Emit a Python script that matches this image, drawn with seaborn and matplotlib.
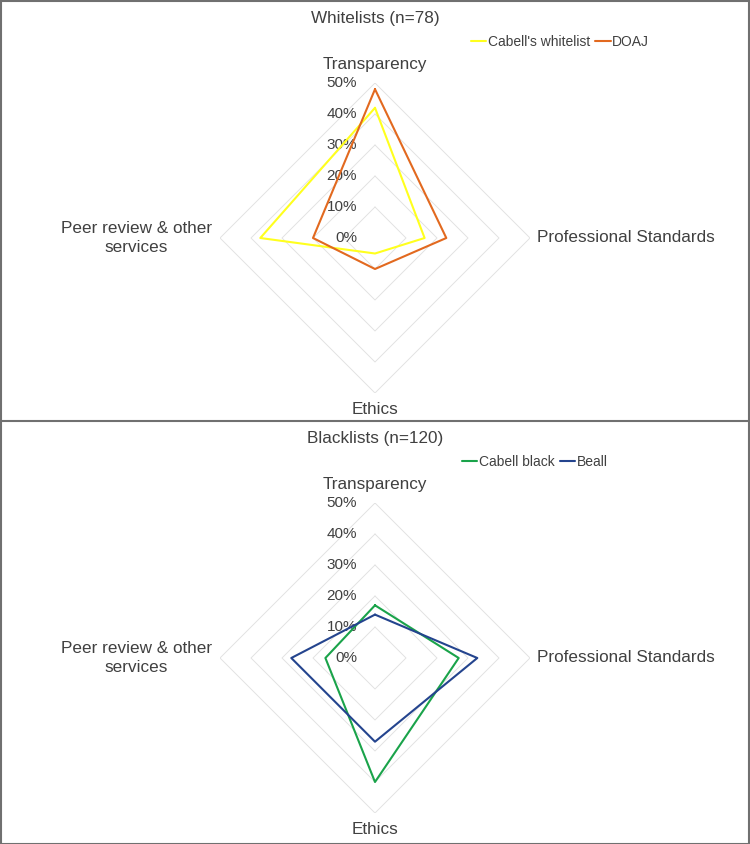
import numpy as np
import pandas as pd
import matplotlib
matplotlib.use("Agg")
import matplotlib.pyplot as plt
import seaborn as sns
from matplotlib.patches import Rectangle
from matplotlib.lines import Line2D

# data (percent)
categories = ["Transparency", "Professional Standards", "Ethics", "Peer review & other\nservices"]
white_series = ["Cabell's whitelist", "DOAJ"]
white_values = [[42, 16, 5, 37],
                [48, 23, 10, 20]]
black_series = ["Cabell black", "Beall"]
black_values = [[17, 27, 40, 16],
                [14, 33, 27, 27]]
tick_levels = [0, 10, 20, 30, 40, 50]
tick_labels = ["0%", "10%", "20%", "30%", "40%", "50%"]

white_colors = ["#ffff1e", "#e2691f"]
black_colors = ["#1aa34a", "#24448e"]

sns.set_style("white")
plt.rcParams["font.family"] = ["Liberation Sans", "DejaVu Sans"]
text_col = "#404040"

fig = plt.figure(figsize=(7.5, 8.44), dpi=100)
W, H = 750, 844
R = 155  # pixel radius of the 50% ring

angles = np.arange(len(categories)) * 2 * np.pi / len(categories)


def to_long(series, values):
    rows = []
    thetas = angles.tolist() + [2 * np.pi]
    for name, vals in zip(series, values):
        for t, v in zip(thetas, vals + [vals[0]]):
            rows.append({"series": name, "theta": t, "value": v})
    return pd.DataFrame(rows)


def radar(cy, title, series, values, colors, legend_x):
    ax = fig.add_axes([(375 - R) / W, (H - cy - R) / H, 2 * R / W, 2 * R / H], projection="polar")
    ax.set_theta_zero_location("N")
    ax.set_theta_direction(-1)
    ax.grid(False)
    ax.spines["polar"].set_visible(False)
    ax.set_xticks([])
    ax.set_yticks([])

    # diamond grid
    for lv in tick_levels[1:]:
        ax.plot(list(angles) + [2 * np.pi], [lv] * 5, color="#e2e2e2", lw=0.7, zorder=1)

    df = to_long(series, values)
    sns.lineplot(data=df, x="theta", y="value", hue="series", hue_order=series,
                 palette=colors, sort=False, estimator=None, lw=1.5, ax=ax, legend=False, zorder=3)
    ax.set_xlabel("")
    ax.set_ylabel("")
    ax.set_ylim(0, 50)

    for lv, lab in zip(tick_levels, tick_labels):
        ax.annotate(lab, xy=(0, lv), xytext=(-18, 0), textcoords="offset pixels",
                    ha="right", va="center", fontsize=11, color=text_col, zorder=2)

    offs = [(0, 18, "center", "center"), (7, 0, "left", "center"),
            (0, -17, "center", "center"), (-8, 0, "right", "center")]
    for a, cat, (dx, dy, ha, va) in zip(angles, categories, offs):
        ax.annotate(cat, xy=(a, 50), xytext=(dx, dy), textcoords="offset pixels",
                    ha=ha, va=va, fontsize=12.3, color=text_col, multialignment="center",
                    linespacing=1.35, annotation_clip=False)

    fig.text(0.5, 1 - (cy - 220) / H, title, ha="center", va="center", fontsize=12.3, color=text_col)

    handles = [Line2D([], [], color=c, lw=1.5) for c in colors]
    fig.legend(handles, series, loc="center left",
               bbox_to_anchor=(legend_x / W, 1 - (cy - 196) / H),
               ncol=2, frameon=False, fontsize=10, handlelength=1.1, handletextpad=0.1,
               columnspacing=0.4, borderpad=0, borderaxespad=0, labelcolor=text_col)
    return ax


radar(238, "Whitelists (n=78)", white_series, white_values, white_colors, 471)
radar(658, "Blacklists (n=120)", black_series, black_values, black_colors, 462)

# panel frames
border = "#707070"
fig.patches.append(Rectangle((0.5 / W, 0.5 / H), 1 - 1.5 / W, 1 - 1.5 / H, transform=fig.transFigure,
                             fill=False, ec=border, lw=1.5))
fig.lines.append(Line2D([0, 1], [1 - 421 / H, 1 - 421 / H], transform=fig.transFigure, color=border, lw=1.5))

fig.savefig("out.png", dpi=100)
